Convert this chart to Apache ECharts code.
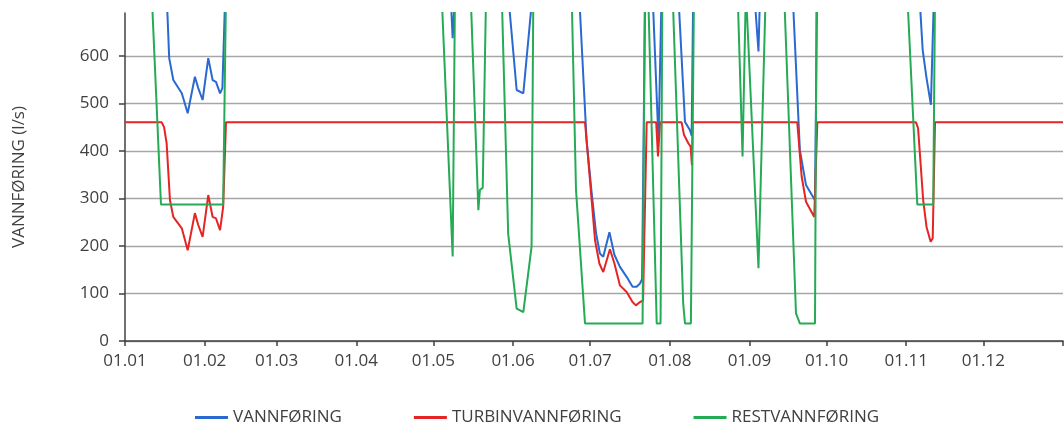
<!DOCTYPE html>
<html>
<head>
<meta charset="utf-8">
<script src="https://cdn.jsdelivr.net/npm/echarts@6/dist/echarts.min.js"></script>
<style>
  html, body { margin: 0; padding: 0; background: #fff; }
  #chart { width: 1064px; height: 427px; }
</style>
</head>
<body>
<div id="chart"></div>
<script>
// dag i året (0 = 1. januar), verdier i l/s
// verdier over 690 ligger utenfor plottet (klippes)
const TOP = 730;

const monthStarts = [0, 31, 59, 90, 120, 151, 181, 212, 243, 273, 304, 334, 365];
const monthLabels = ['01.01', '01.02', '01.03', '01.04', '01.05', '01.06',
  '01.07', '01.08', '01.09', '01.10', '01.11', '01.12'];
const yTicks = [0, 100, 200, 300, 400, 500, 600];

const vannforing = [
  [0, TOP], [16.2, TOP], [17.2, 595], [18.8, 549], [22.1, 521], [24.4, 479],
  [27.2, 556], [28.5, 532], [30.2, 507], [32.4, 595], [34.1, 549], [35.4, 545],
  [37.0, 521], [37.9, 532], [39.0, TOP],
  [126.7, TOP], [127.5, 637], [128.4, TOP],
  [149.1, TOP], [152.4, 528], [155.0, 521], [158.6, TOP],
  [176.7, TOP], [179.6, 423], [181.6, 311], [183.3, 227], [184.8, 184], [186.1, 177],
  [188.5, 229], [190.4, 182], [192.6, 156], [195.2, 135], [197.5, 114], [199.1, 114],
  [200.4, 121], [201.2, 130], [202.4, TOP],
  [205.3, TOP], [207.6, 420], [208.8, TOP],
  [215.3, TOP], [217.9, 461], [219.8, 444], [220.5, 432], [221.1, TOP],
  [244.9, TOP], [246.5, 609], [247.1, TOP],
  [259.8, TOP], [262.6, 402], [265.0, 328], [268.5, 296], [269.3, TOP],
  [309.1, TOP], [310.4, 612], [311.9, 553], [313.6, 497], [314.8, TOP],
  [365, TOP]
];

const turbinvannforing = [
  [0, 460], [14.3, 460], [15.2, 450], [16.2, 416], [17.5, 296], [18.8, 261],
  [22.1, 237], [24.4, 191], [27.2, 269], [28.5, 244], [30.2, 219], [32.4, 307],
  [34.1, 261], [35.4, 258], [37.0, 233], [38.2, 282], [39.3, 460],
  [179.0, 460], [179.6, 423], [181.6, 296], [182.9, 212], [184.6, 163], [186.1, 145],
  [188.7, 193], [190.4, 164], [192.6, 117], [195.2, 103], [197.5, 82], [198.8, 75],
  [200.4, 82], [201.6, 85], [203.0, 460],
  [206.7, 460], [207.4, 388], [208.2, 460],
  [216.6, 460], [217.5, 434], [219.2, 416], [220.1, 409], [220.6, 370], [220.9, 460],
  [261.6, 460], [263.3, 346], [265.0, 293], [268.2, 261], [269.4, 460],
  [307.8, 460], [308.6, 448], [310.6, 296], [311.9, 240], [313.5, 209], [314.3, 216],
  [315.2, 460], [365, 460]
];

const restvannforing = [
  [0, TOP], [10.4, TOP], [14.0, 287], [38.2, 287], [39.3, TOP],
  [123.2, TOP], [127.5, 178], [128.4, TOP],
  [134.5, TOP], [137.5, 275], [138.1, 318], [139.2, 322], [140.5, TOP],
  [146.6, TOP], [149.1, 226], [152.4, 68], [155.0, 61], [158.2, 198], [158.9, TOP],
  [173.8, TOP], [175.5, 318], [179.0, 37], [201.4, 37], [202.3, TOP],
  [203.6, TOP], [206.9, 37], [208.4, 37], [209.1, TOP],
  [213.1, TOP], [217.2, 80], [217.9, 37], [220.2, 37], [221.4, TOP],
  [238.4, TOP], [240.3, 388], [241.6, 740], [246.5, 153], [249.3, TOP],
  [256.5, TOP], [261.1, 58], [262.6, 37], [268.5, 37], [269.1, TOP],
  [304.4, TOP], [308.3, 287], [314.5, 287], [315.2, TOP],
  [365, TOP]
];

const FONT = 'Open Sans';
const chart = echarts.init(document.getElementById('chart'), null, { renderer: 'canvas' });

function lineSeries(name, data, color) {
  return {
    name: name,
    type: 'line',
    data: data,
    symbol: 'none',
    smooth: false,
    clip: true,
    animation: false,
    lineStyle: { color: color, width: 2 },
    itemStyle: { color: color }
  };
}

const option = {
  backgroundColor: '#ffffff',
  animation: false,
  textStyle: { fontFamily: FONT },
  grid: { left: 125, right: 1, top: 13, bottom: 86 },
  legend: {
    left: 190,
    top: 404,
    icon: 'rect',
    itemWidth: 33,
    itemHeight: 3,
    itemGap: 72,
    textStyle: { fontFamily: FONT, fontSize: 17, color: '#404040' },
    data: ['VANNFØRING', 'TURBINVANNFØRING', 'RESTVANNFØRING']
  },
  xAxis: {
    type: 'value',
    min: 0,
    max: 365,
    axisLine: { show: true, lineStyle: { color: '#404040', width: 1.5 } },
    axisTick: {
      show: true,
      length: 5,
      customValues: monthStarts,
      lineStyle: { color: '#404040', width: 1.5 }
    },
    axisLabel: {
      customValues: monthStarts.slice(0, 12),
      formatter: function (v) {
        const i = monthStarts.indexOf(v);
        return i >= 0 ? monthLabels[i] : '';
      },
      margin: 12,
      fontFamily: FONT,
      fontSize: 17,
      color: '#404040'
    },
    splitLine: { show: false }
  },
  yAxis: {
    type: 'value',
    min: 0,
    max: 690,
    interval: 100,
    name: 'VANNFØRING (l/s)',
    nameLocation: 'middle',
    nameGap: 97,
    nameTextStyle: { fontFamily: FONT, fontSize: 17, color: '#404040' },
    axisLine: { show: true, lineStyle: { color: '#404040', width: 1.5 } },
    axisTick: {
      show: true,
      length: 6,
      customValues: yTicks,
      lineStyle: { color: '#404040', width: 1.5 }
    },
    axisLabel: {
      customValues: yTicks,
      margin: 16,
      fontFamily: FONT,
      fontSize: 17,
      color: '#404040'
    },
    splitLine: { show: true, lineStyle: { color: '#a6a6a6', width: 1.3 } }
  },
  series: [
    lineSeries('VANNFØRING', vannforing, '#2a6ad0'),
    lineSeries('TURBINVANNFØRING', turbinvannforing, '#e52424'),
    lineSeries('RESTVANNFØRING', restvannforing, '#25ab55')
  ]
};

chart.setOption(option);
</script>
</body>
</html>
